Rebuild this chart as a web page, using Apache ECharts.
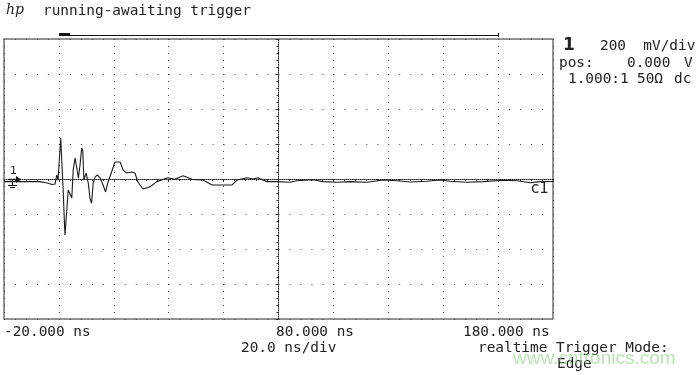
<!DOCTYPE html>
<html>
<head>
<meta charset="utf-8">
<script src="https://cdn.jsdelivr.net/npm/echarts@6/dist/echarts.min.js"></script>
<style>
  html, body { margin: 0; padding: 0; background: #fff; }
  #chart { width: 700px; height: 375px; }
</style>
</head>
<body>
<div id="chart"></div>
<script>
// trace: time in ns, channel 1 in mV
const timeNs = [-20, -14.2, -6.9, -4.3, -2.5, -1.4, -0.8, -0.3, 0.66, 1.1, 1.5, 2.2, 2.8, 3.4, 4.0, 4.7, 5.2, 5.9, 6.5, 7.1,
  7.7, 8.3, 8.7, 9.1, 9.9, 10.7, 11.3, 11.9, 12.5, 13.2, 14.0, 15.0, 16.1, 17.0, 17.9, 19.2, 20.4, 22.3, 23.4, 24.7,
  26.5, 27.7, 28.8, 30.6, 33.2, 35.7, 39.7, 42.3, 45.2, 48.5, 52.5, 55.8, 59.4, 63.1, 64.9, 68.5, 70.7, 72.5, 75.8, 79.5,
  84.2, 86.7, 92.6, 96.2, 101.3, 106.0, 112.2, 118.1, 123.2, 127.9, 134.1, 138.8, 142.5, 148.7, 154.5, 161.8, 166.9, 171.7, 175.3, 180];
const voltMv = [-15, -15, -15, -23, -31, -29, 23, -6, 234, 223, -46, -320, -194, -63, -74, -109, 51, 120, 109, 6,
  80, 177, 160, -6, 34, -23, -109, -137, -23, 11, 23, 6, -34, -74, -17, 40, 97, 97, 51, 34,
  40, 34, -17, -57, -44, -15, 7, -2, 19, -2, -6, -34, -34, -34, -6, 7, 0, 7, -15, -15,
  -19, -10, -4, -15, -19, -15, -19, -6, -10, -17, -13, -6, -13, -19, -15, -7, -10, -21, -15, -14];

const timeLabels = ['-20.000 ns', '80.000 ns', '180.000 ns'];
const headerText = 'running-awaiting trigger';
const channelLines = [['1', '200  mV/div'], ['pos:', '0.000', 'V'], ['1.000:1', '50Ω', 'dc']];
const footerLines = ['20.0 ns/div', 'realtime Trigger Mode:', 'Edge'];

const trace = timeNs.map((t, i) => [t, voltMv[i]]);

const mono = "14.4px 'DejaVu Sans Mono', monospace";
const txt = (text, x, y, extra) => ({
  type: 'text', x: x, y: y, z: 10,
  style: Object.assign({ text: text, font: mono, fill: '#222', verticalAlign: 'middle' }, extra || {})
});

const myChart = echarts.init(document.getElementById('chart'), null, { renderer: 'canvas' });
const option = {
  animation: false,
  backgroundColor: '#fff',
  grid: {
    left: 4, top: 39, width: 549, height: 280,
    show: true, borderColor: '#707070', borderWidth: 1.5, backgroundColor: 'transparent'
  },
  xAxis: [
    {
      type: 'value', min: -20, max: 180, interval: 20,
      axisLine: { show: true, onZero: true, lineStyle: { color: '#222', width: 1, type: [1, 1] } },
      axisTick: { show: true, length: 3, lineStyle: { color: '#333' } },
      minorTick: { show: true, splitNumber: 5, length: 2, lineStyle: { color: '#333' } },
      axisLabel: { show: false },
      splitLine: { show: true, lineStyle: { color: '#444', width: 1, type: [1, 6] } }
    },
    {
      type: 'value', min: -100, max: 100, show: false
    }
  ],
  yAxis: {
    type: 'value', min: -800, max: 800, interval: 200,
    axisLine: { show: true, onZero: true, onZeroAxisIndex: 1, lineStyle: { color: '#222', width: 1, type: [1, 1] } },
    axisTick: { show: true, length: 3, lineStyle: { color: '#333' } },
    minorTick: { show: true, splitNumber: 5, length: 2, lineStyle: { color: '#333' } },
    axisLabel: { show: false },
    splitLine: { show: true, lineStyle: { color: '#444', width: 1, type: [1, 9.98] } }
  },
  series: [
    {
      type: 'line',
      data: trace,
      xAxisIndex: 0,
      showSymbol: false,
      symbol: 'none',
      lineStyle: { color: '#1c1c1c', width: 1.1 },
      z: 5
    }
  ],
  graphic: [
    txt('hp', 6, 10, { font: "italic 14px 'DejaVu Serif', serif" }),
    txt(headerText, 43, 11),
    // acquisition memory bar
    { type: 'line', shape: { x1: 60, y1: 35.5, x2: 498, y2: 35.5 }, style: { stroke: '#111', lineWidth: 1 } },
    { type: 'line', shape: { x1: 498.5, y1: 33, x2: 498.5, y2: 37 }, style: { stroke: '#111', lineWidth: 1 } },
    { type: 'rect', shape: { x: 59, y: 33, width: 11, height: 3 }, style: { fill: '#111' } },
    // channel panel
    txt(channelLines[0][0], 563, 46, { font: "bold 17px 'DejaVu Sans', sans-serif" }),
    txt(channelLines[0][1], 600, 46),
    txt(channelLines[1][0], 559, 63),
    txt(channelLines[1][1], 627, 63),
    txt(channelLines[1][2], 684, 63),
    txt(channelLines[2][0], 568, 79),
    txt(channelLines[2][1], 637, 79),
    txt(channelLines[2][2], 674, 79),
    // ground reference marker
    txt('1', 10, 171, { font: "11px 'DejaVu Sans', sans-serif" }),
    { type: 'polyline', shape: { points: [[9, 179.5], [21, 179.5]] }, style: { stroke: '#111', lineWidth: 1.5 } },
    { type: 'polygon', shape: { points: [[16, 176], [21, 179.5], [16, 183]] }, style: { fill: '#111' } },
    { type: 'line', shape: { x1: 12.5, y1: 179, x2: 12.5, y2: 185 }, style: { stroke: '#111', lineWidth: 1 } },
    { type: 'line', shape: { x1: 8, y1: 185.5, x2: 17, y2: 185.5 }, style: { stroke: '#111', lineWidth: 1 } },
    { type: 'line', shape: { x1: 10, y1: 187.5, x2: 15, y2: 187.5 }, style: { stroke: '#111', lineWidth: 1 } },
    txt('c1', 531, 189, { font: "15px 'DejaVu Sans', sans-serif" }),
    // time base labels
    txt(timeLabels[0], 4, 332),
    txt(timeLabels[1], 276, 332),
    txt(timeLabels[2], 463, 332),
    txt(footerLines[0], 241, 348),
    txt(footerLines[1], 478, 348),
    txt(footerLines[2], 557, 364),
    // watermark
    txt('www.cntronics.com', 513, 359, { font: "19px 'Liberation Sans', sans-serif", fill: 'rgba(140,210,130,0.6)' })
  ]
};
myChart.setOption(option);
window.addEventListener('resize', () => {
  myChart.resize();
});
</script>
</body>
</html>
